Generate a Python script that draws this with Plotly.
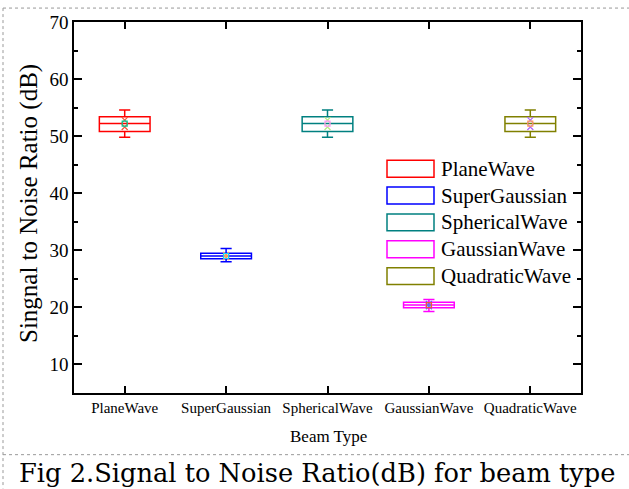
import plotly.graph_objects as go

categories = ["PlaneWave", "SuperGaussian", "SphericalWave", "GaussianWave", "QuadraticWave"]
colors = ["#FF0000", "#0000FF", "#008080", "#FF00FF", "#808000"]
q1 = [50.8, 28.5, 50.8, 19.95, 50.8]
median = [52.2, 29.0, 52.2, 20.4, 52.2]
q3 = [53.4, 29.5, 53.4, 20.9, 53.4]
lower = [49.8, 28.0, 49.8, 19.3, 49.8]
upper = [54.6, 30.3, 54.6, 21.4, 54.6]
mean = [52.2, 29.0, 52.2, 20.4, 52.2]
pct99 = [52.8, 29.2, 52.8, 20.6, 52.8]
pct01 = [51.6, 28.8, 51.6, 20.2, 51.6]
y_ticks = [10, 20, 30, 40, 50, 60, 70]

W, H = 629, 489
ML, MR, MT, MB = 74, 48, 20, 96
PW, PH = W - ML - MR, H - MT - MB


def px(x):
    return (x - ML) / PW


def py(y):
    return (H - MB - y) / PH


SERIF = "Liberation Serif, Times New Roman, serif"
fig = go.Figure()

for i, c in enumerate(categories):
    fig.add_trace(go.Box(
        x=[c], q1=[q1[i]], median=[median[i]], q3=[q3[i]],
        lowerfence=[lower[i]], upperfence=[upper[i]],
        name=c, width=0.5, whiskerwidth=0.22,
        line=dict(color=colors[i], width=1.5),
        fillcolor="rgba(255,255,255,0)", boxpoints=False,
        showlegend=False,
    ))
    fig.add_trace(go.Scatter(
        x=[c, c], y=[pct99[i], pct01[i]], mode="markers",
        marker=dict(symbol="x-thin-open", size=6, line=dict(color=colors[i], width=1.2)),
        showlegend=False, hoverinfo="skip",
    ))
    fig.add_trace(go.Scatter(
        x=[c], y=[mean[i]], mode="markers",
        marker=dict(symbol="square-open", size=5, line=dict(color=colors[i], width=1.2)),
        showlegend=False, hoverinfo="skip",
    ))

shapes = []
annotations = []
# manual legend
leg_y0 = 167.5
leg_dy = 27
for i, c in enumerate(categories):
    yc = leg_y0 + i * leg_dy
    shapes.append(dict(type="rect", xref="paper", yref="paper",
                       x0=px(387), x1=px(434), y0=py(yc - 8.5), y1=py(yc + 8.5),
                       line=dict(color=colors[i], width=1.5), fillcolor="white"))
    annotations.append(dict(text=c, xref="paper", yref="paper", x=px(439), y=py(yc),
                            xanchor="left", yanchor="middle", showarrow=False,
                            font=dict(family=SERIF, size=21, color="black")))

dot = dict(color="#999999", width=1, dash="dot")
shapes += [
    dict(type="line", xref="paper", yref="paper", x0=px(3), x1=px(629), y0=py(6), y1=py(6), line=dot),
    dict(type="line", xref="paper", yref="paper", x0=px(3), x1=px(3), y0=py(6), y1=py(489), line=dot),
    dict(type="line", xref="paper", yref="paper", x0=px(3), x1=px(629), y0=py(455), y1=py(455), line=dot),
]

annotations.append(dict(text="Singnal to Noise Ratio (dB)", xref="paper", yref="paper",
                        x=px(29), y=py(203), textangle=-90, showarrow=False,
                        xanchor="center", yanchor="middle",
                        font=dict(family=SERIF, size=25, color="black")))
annotations.append(dict(text="Beam Type", xref="paper", yref="paper",
                        x=px(328), y=py(437), showarrow=False,
                        xanchor="center", yanchor="middle",
                        font=dict(family=SERIF, size=17, color="black")))
annotations.append(dict(text="Fig 2.Signal to Noise Ratio(dB) for beam type", xref="paper", yref="paper",
                        x=px(17), y=py(473), showarrow=False,
                        xanchor="left", yanchor="middle",
                        font=dict(family="DejaVu Serif", size=25.7, color="black")))

fig.update_layout(
    width=W, height=H,
    margin=dict(l=ML, r=MR, t=MT, b=MB),
    paper_bgcolor="white", plot_bgcolor="white",
    showlegend=False,
    shapes=shapes, annotations=annotations,
    xaxis=dict(type="category", categoryorder="array", categoryarray=categories,
               range=[-0.5, 4.5], showline=True, linecolor="black", linewidth=1.5,
               mirror="allticks", ticks="inside", ticklen=7, tickwidth=1.5, tickcolor="black",
               showgrid=False, zeroline=False,
               tickfont=dict(family=SERIF, size=15, color="black")),
    yaxis=dict(range=[5, 70], tickvals=y_ticks, showline=True, linecolor="black", linewidth=1.5,
               mirror="allticks", ticks="inside", ticklen=8, tickwidth=1.5, tickcolor="black",
               showgrid=False, zeroline=False,
               minor=dict(dtick=5, ticks="inside", ticklen=4, tickwidth=1.5, tickcolor="black", showgrid=False),
               tickfont=dict(family=SERIF, size=19, color="black")),
)

fig.write_html("out.html")
